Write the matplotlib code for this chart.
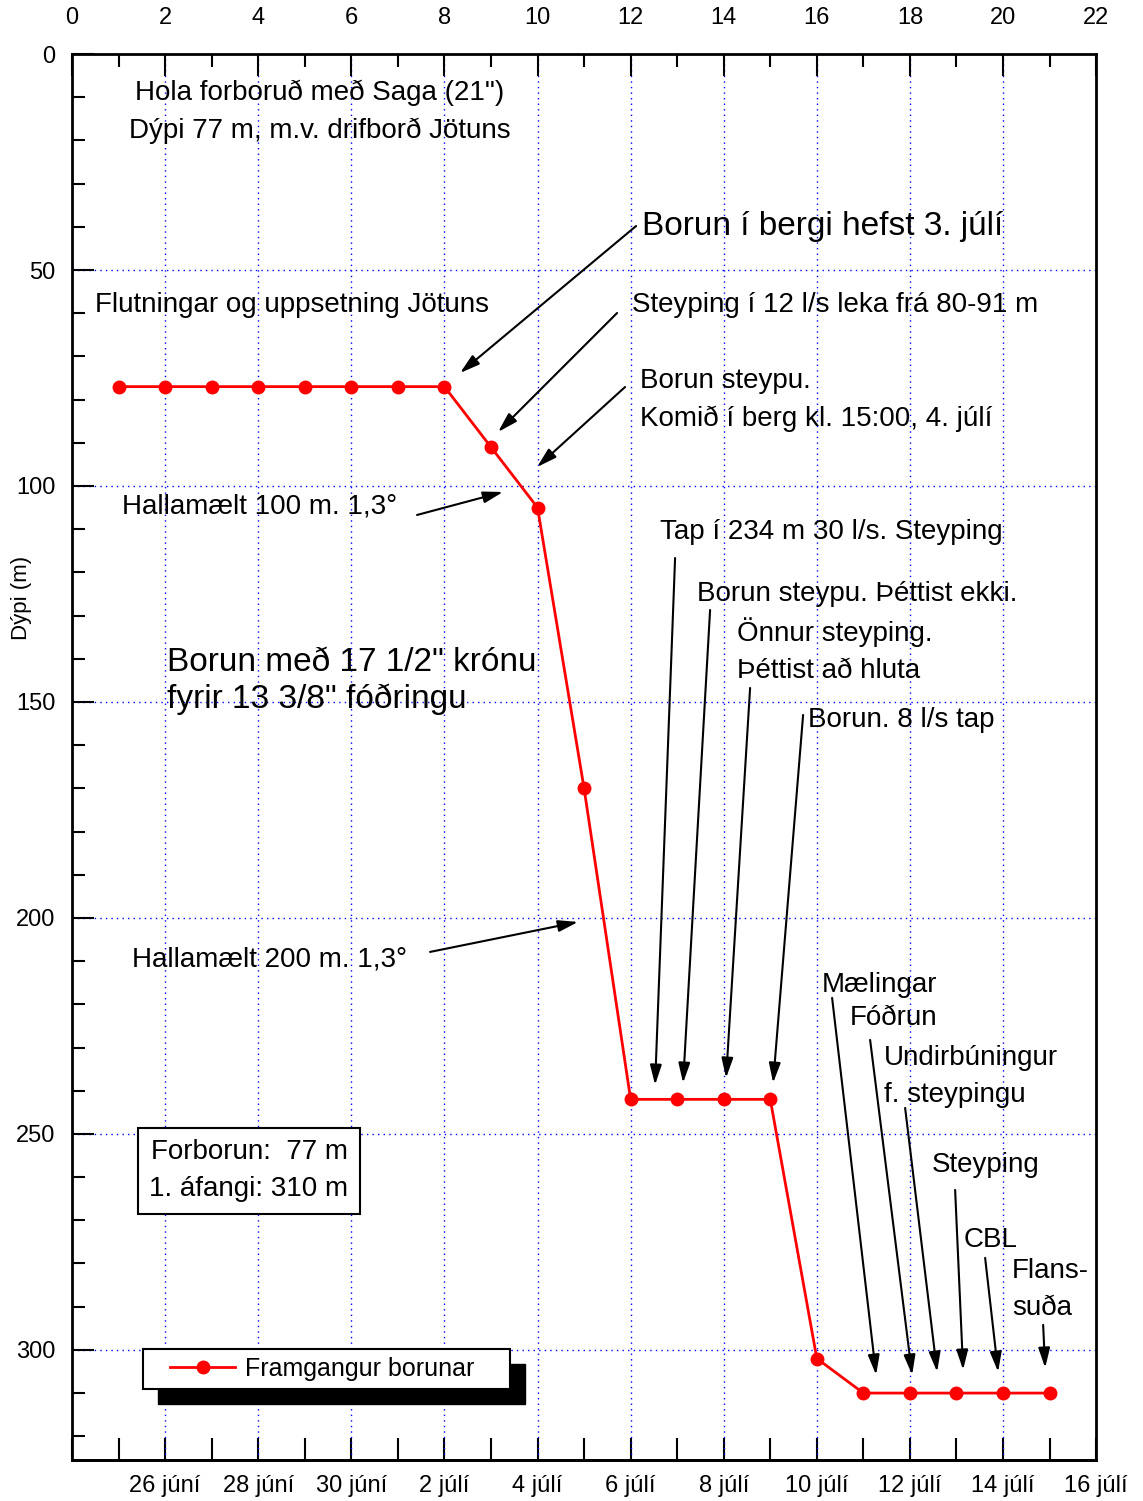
import matplotlib.pyplot as plt
from matplotlib.patches import Rectangle
from matplotlib.ticker import MultipleLocator

plt.rcParams['font.family'] = ['Liberation Sans', 'DejaVu Sans']

days = [1, 2, 3, 4, 5, 6, 7, 8, 9, 10, 11, 12, 13, 14, 15, 16, 17, 18, 19, 20, 21]
depth = [77, 77, 77, 77, 77, 77, 77, 77, 91, 105, 170, 242, 242, 242, 242, 302, 310, 310, 310, 310, 310]
date_ticks = [2, 4, 6, 8, 10, 12, 14, 16, 18, 20, 22]
date_labels = ['26 júní', '28 júní', '30 júní', '2 júlí', '4 júlí', '6 júlí',
               '8 júlí', '10 júlí', '12 júlí', '14 júlí', '16 júlí']

fig = plt.figure(figsize=(11.43, 15.01), dpi=100)
ax = fig.add_axes([0.063, 0.0273, 0.896, 0.9367])


def d(px, py):
    # pixel position in the picture -> data coordinates
    return ((px - 72) / 46.545, (py - 54) / 4.32)


def a(px, py):
    # pixel position -> axes fraction
    return ((px - 72) / 1024, (1460 - py) / 1406)


ax.plot(days, depth, color='red', lw=2, marker='o', ms=9, label='Framgangur borunar', zorder=3)

ax.set_xlim(0, 22)
ax.set_ylim(325.5, 0)
ax.xaxis.set_major_locator(MultipleLocator(2))
ax.xaxis.set_minor_locator(MultipleLocator(1))
ax.yaxis.set_major_locator(MultipleLocator(50))
ax.yaxis.set_minor_locator(MultipleLocator(10))
ax.xaxis.tick_top()
ax.tick_params(axis='both', which='both', direction='in', labelsize=17, width=1.5)
ax.tick_params(which='major', length=16)
ax.tick_params(which='minor', length=9)
ax.tick_params(axis='x', which='major', pad=18)
ax.tick_params(axis='y', which='major', pad=12)
ax.grid(True, which='major', color='blue', ls=(0, (1, 3)), lw=1)
for s in ax.spines.values():
    s.set_linewidth(2)

bx = ax.secondary_xaxis('bottom')
bx.set_xticks(date_ticks)
bx.set_xticklabels(date_labels)
bx.xaxis.set_minor_locator(MultipleLocator(1))
bx.tick_params(axis='x', which='both', direction='in', labelsize=17, width=1.5, pad=11)
bx.tick_params(which='major', length=16)
bx.tick_params(which='minor', length=16)
bx.spines['bottom'].set_linewidth(2)

fig.text(22 / 1143, 1 - 598 / 1501, 'Dýpi (m)', fontsize=16, rotation=90, ha='center', va='center')

fs = 20
ls = 1.55
ax.text(*d(320, 112), 'Hola forboruð með Saga (21")\nDýpi 77 m, m.v. drifborð Jötuns',
        fontsize=fs, ha='center', va='center', linespacing=ls)
ax.text(*d(95, 305), 'Flutningar og uppsetning Jötuns', fontsize=fs, va='center')
ax.text(*d(167, 681), 'Borun með 17 1/2" krónu\nfyrir 13 3/8" fóðringu', fontsize=24,
        va='center', linespacing=1.2)

notes = [
    ('Borun í bergi hefst 3. júlí', (642, 226), (636, 226), (460, 373), 24),
    ('Steyping í 12 l/s leka frá 80-91 m', (632, 305), (617, 313), (498, 432), fs),
    ('Borun steypu.\nKomið í berg kl. 15:00, 4. júlí', (640, 400), (625, 387), (537, 467), fs),
    ('Hallamælt 100 m. 1,3°', (122, 507), (417, 515), (503, 492), fs),
    ('Hallamælt 200 m. 1,3°', (132, 960), (430, 952), (578, 922), fs),
    ('Tap í 234 m 30 l/s. Steyping', (660, 532), (675, 558), (655, 1085), fs),
    ('Borun steypu. Þéttist ekki.', (697, 594), (710, 610), (683, 1083), fs),
    ('Önnur steyping.\nÞéttist að hluta', (737, 651), (750, 688), (726, 1078), fs),
    ('Borun. 8 l/s tap', (808, 720), (803, 715), (773, 1083), fs),
    ('Mælingar', (822, 985), (832, 998), (876, 1375), fs),
    ('Fóðrun', (850, 1018), (870, 1040), (912, 1375), fs),
    ('Undirbúningur\nf. steypingu', (884, 1077), (905, 1108), (937, 1372), fs),
    ('Steyping', (932, 1165), (955, 1190), (963, 1370), fs),
    ('CBL', (963, 1240), (985, 1258), (998, 1372), fs),
    ('Flans-\nsuða', (1012, 1290), (1043, 1325), (1045, 1368), fs),
]
for txt, tpos, a0, a1, size in notes:
    ax.text(*d(*tpos), txt, fontsize=size, va='center', ha='left', linespacing=ls)
    ax.annotate('', xy=d(*a1), xytext=d(*a0),
                arrowprops=dict(arrowstyle='-|>,head_length=1.2,head_width=0.35',
                                color='black', lw=1.5, shrinkA=0, shrinkB=0))

ax.text(*d(249, 1171), 'Forborun:  77 m\n1. áfangi: 310 m', fontsize=fs, ha='center', va='center',
        linespacing=ls, bbox=dict(boxstyle='square,pad=0.4', fc='white', ec='black', lw=1.5))

# legend: white box with a solid black drop shadow
ax.add_patch(Rectangle(a(158, 1404), 367 / 1024, 40 / 1406,
                       transform=ax.transAxes, color='black', zorder=4))
ax.add_patch(Rectangle(a(143, 1389), 367 / 1024, 40 / 1406, transform=ax.transAxes,
                       fc='white', ec='black', lw=1.5, zorder=5))
leg = ax.legend(loc='center left', bbox_to_anchor=a(170, 1369),
                fontsize=18, frameon=False, borderaxespad=0, borderpad=0,
                handlelength=2.6, handletextpad=0.4)
leg.set_zorder(6)

fig.savefig('out.png', dpi=100)
